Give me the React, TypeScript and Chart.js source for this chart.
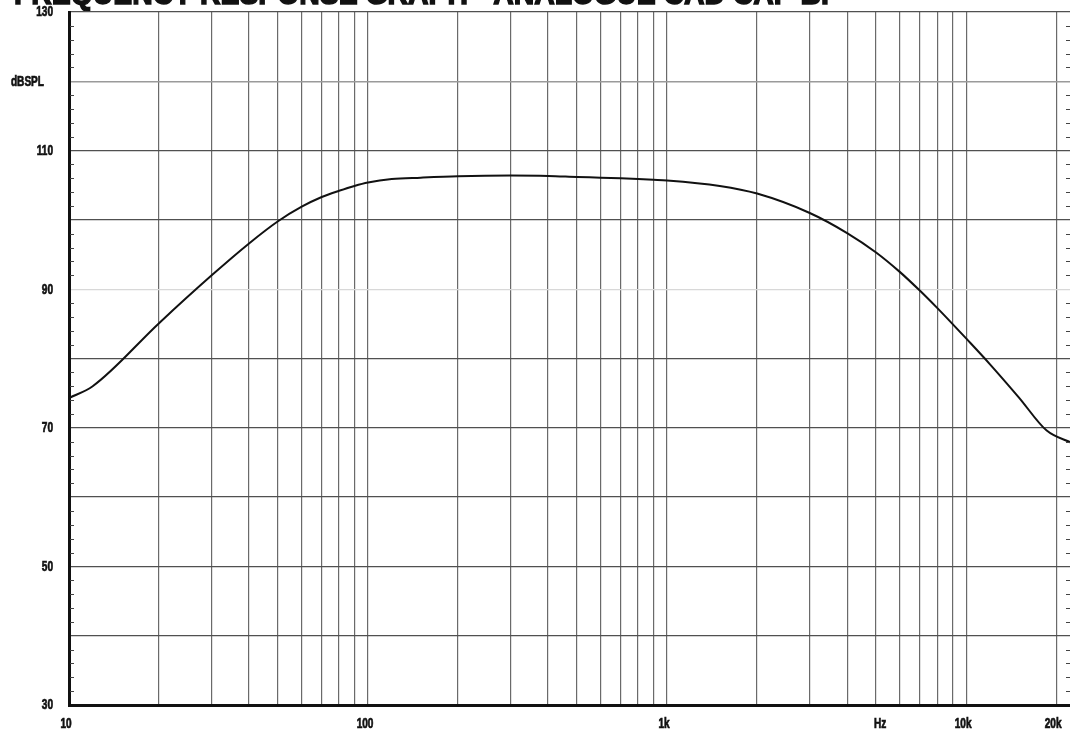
import React, { useEffect, useRef } from "react";
import { Chart, registerables } from "chart.js";

Chart.register(...registerables);

const FREQS = [10, 12, 20, 30, 40, 50, 60, 70, 80, 90, 100, 120, 150, 200, 300, 400, 500, 600, 700, 800, 900, 1000, 1500, 2000, 3000, 4000, 5000, 6000, 7000, 8000, 9000, 10000, 12000, 15000, 18600, 22600];
const SPL = [74.3, 76.0, 85.1, 92.0, 96.6, 99.8, 101.9, 103.3, 104.2, 104.9, 105.4, 105.9, 106.1, 106.3, 106.4, 106.35, 106.2, 106.1, 106.0, 105.9, 105.8, 105.7, 104.9, 103.8, 101.0, 98.1, 95.3, 92.5, 89.8, 87.3, 85.0, 82.9, 79.2, 74.4, 69.6, 67.8];

const X_GRID = [10, 20, 30, 40, 50, 60, 70, 80, 90, 100, 200, 300, 400, 500, 600, 700, 800, 900, 1000, 2000, 3000, 4000, 5000, 6000, 7000, 8000, 9000, 10000, 20000];
const X_LABEL_VALUES = [10, 100, 1000, 5000, 10000, 20000];
const X_LABEL_TEXT = ["10", "100", "1k", "Hz", "10k", "20k"];
const Y_GRID = [30, 40, 50, 60, 70, 80, 90, 100, 110, 120, 130];
const Y_LABEL_VALUES = [130, 120, 110, 90, 70, 50, 30];
const Y_LABEL_TEXT = ["130", "dBSPL", "110", "90", "70", "50", "30"];
const Y_MINOR = [32, 34, 36, 38, 42, 44, 46, 48, 52, 54, 56, 58, 62, 64, 66, 68, 72, 74, 76, 78, 82, 84, 86, 88, 92, 94, 96, 98, 102, 104, 106, 108, 112, 114, 116, 118, 122, 124, 126, 128];
const TITLE = "FREQUENCY RESPONSE GRAPH - ANALOGUE CAD CAP BP";

const FONT = '"Liberation Sans", Arial, sans-serif';
const SQUEEZE = 0.72;

function squeezedText(ctx: any, text: string, x: number, y: number, align: string) {
  ctx.save();
  ctx.translate(x, y);
  ctx.scale(SQUEEZE, 1);
  ctx.textAlign = align;
  ctx.strokeText(text, 0, 0);
  ctx.fillText(text, 0, 0);
  ctx.restore();
}

const decor = {
  id: "decor",
  beforeDraw(chart: any) {
    const ctx = chart.ctx;
    ctx.save();
    ctx.fillStyle = "#111";
    ctx.strokeStyle = "#111";
    ctx.lineWidth = 1.5;
    ctx.font = `bold 32px ${FONT}`;
    ctx.textBaseline = "alphabetic";
    ctx.textAlign = "left";
    const w = ctx.measureText(TITLE).width;
    ctx.translate(14, 4);
    ctx.scale(826 / w, 1);
    ctx.strokeText(TITLE, 0, 0);
    ctx.fillText(TITLE, 0, 0);
    ctx.restore();
  },
  afterDatasetsDraw(chart: any) {
    const ctx = chart.ctx;
    const ys = chart.scales.y;
    const xs = chart.scales.x;
    const { left, right } = chart.chartArea;
    ctx.save();
    ctx.strokeStyle = "#444";
    ctx.lineWidth = 1;
    Y_MINOR.forEach((v) => {
      const py = Math.round(ys.getPixelForValue(v)) + 0.5;
      ctx.beginPath();
      ctx.moveTo(left + 1, py);
      ctx.lineTo(left + 5, py);
      ctx.moveTo(right - 6, py);
      ctx.lineTo(right - 1, py);
      ctx.stroke();
    });
    ctx.fillStyle = "#111";
    ctx.strokeStyle = "#111";
    ctx.lineWidth = 0.7;
    ctx.font = `bold 14px ${FONT}`;
    ctx.textBaseline = "middle";
    Y_LABEL_VALUES.forEach((v, i) => {
      const t = Y_LABEL_TEXT[i];
      const py = ys.getPixelForValue(v) + 0.5;
      squeezedText(ctx, t, t === "dBSPL" ? 44 : 53, py, "right");
    });
    X_LABEL_VALUES.forEach((v, i) => {
      const t = X_LABEL_TEXT[i];
      const px = xs.getPixelForValue(v) + (t === "Hz" ? 4 : -3);
      squeezedText(ctx, t, px, 724.5, "center");
    });
    ctx.restore();
  },
};

export default function App() {
  const ref = useRef<HTMLCanvasElement | null>(null);
  useEffect(() => {
    if (!ref.current) return;
    const chart = new Chart(ref.current, {
      type: "line",
      data: {
        datasets: [
          {
            data: FREQS.map((f, i) => ({ x: f, y: SPL[i] })),
            borderColor: "#111",
            borderWidth: 2,
            pointRadius: 0,
            cubicInterpolationMode: "monotone",
            fill: false,
          },
        ],
      },
      options: {
        animation: false,
        responsive: false,
        layout: { padding: { top: 12, right: 0, left: 0, bottom: 0 } },
        plugins: { legend: { display: false }, tooltip: { enabled: false }, title: { display: false } },
        scales: {
          x: {
            type: "logarithmic",
            min: 10,
            max: 22600,
            afterBuildTicks: (s: any) => {
              s.ticks = X_GRID.map((v) => ({ value: v }));
            },
            afterFit: (s: any) => {
              s.height = 30;
              s.paddingLeft = 0;
              s.paddingRight = 0;
            },
            ticks: { display: false, autoSkip: false, maxRotation: 0 },
            grid: { color: "#6a6a6a", lineWidth: 1.2, drawTicks: false },
            border: { display: true, color: "#111", width: 3 },
          },
          y: {
            min: 30,
            max: 130,
            afterBuildTicks: (s: any) => {
              s.ticks = Y_GRID.map((v) => ({ value: v }));
            },
            afterFit: (s: any) => {
              s.width = 69;
              s.paddingTop = 0;
              s.paddingBottom = 0;
            },
            ticks: { display: false, autoSkip: false },
            grid: {
              drawTicks: false,
              color: (c: any) => {
                const v = c.tick?.value;
                if (v === 90) return "#d8d8d8";
                if (v === 120) return "#9a9a9a";
                return "#505050";
              },
              lineWidth: (c: any) => (c.tick?.value === 120 ? 1.5 : 1.2),
            },
            border: { display: true, color: "#111", width: 3 },
          },
        },
      },
      plugins: [decor],
    });
    return () => chart.destroy();
  }, []);
  return (
    <div style={{ position: "fixed", left: 0, top: 0, width: 1070, height: 735, overflow: "hidden", background: "#fff" }}>
      <canvas ref={ref} width={1072} height={735} style={{ display: "block" }} />
    </div>
  );
}
